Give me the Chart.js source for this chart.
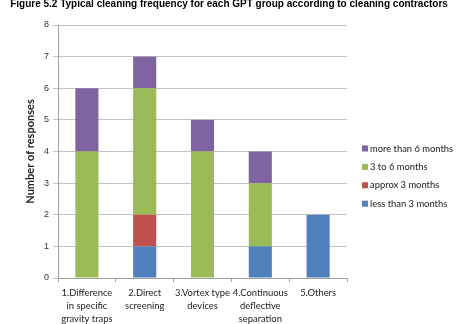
<!DOCTYPE html>
<html>
<head>
<meta charset="utf-8">
<script src="https://cdn.jsdelivr.net/npm/chart.js@4"></script>
<style>
  html, body { margin: 0; padding: 0; background: #fff; overflow: hidden; }
  #wrap { width: 474px; height: 324px; }
</style>
</head>
<body>
<div id="wrap"><canvas id="chart" width="474" height="324"></canvas></div>
<script>
  // categories (multi-line labels as in the figure)
  const categories = [
    ['1.Difference', 'in specific', 'gravity traps'],
    ['2.Direct', 'screening'],
    ['3.Vortex type', 'devices'],
    ['4.Continuous', 'deflective', 'separation'],
    ['5.Others']
  ];

  // series, bottom of the stack first
  const lessThan3 = [0, 1, 0, 1, 2];
  const approx3 = [0, 1, 0, 0, 0];
  const from3to6 = [4, 4, 4, 2, 0];
  const moreThan6 = [2, 1, 1, 1, 0];

  const yTicks = [0, 1, 2, 3, 4, 5, 6, 7, 8];

  const TITLE = 'Figure 5.2 Typical cleaning frequency for each GPT group according to cleaning contractors';
  const LABEL_FONT = 'Lato';
  const GRID = '#c4c4c4';
  const AXIS = '#a0a0a0';

  // legend drawn on the right, top item = last dataset
  const sideLegend = {
    id: 'sideLegend',
    afterDraw(chart) {
      const ctx = chart.ctx;
      const area = chart.chartArea;
      const sets = chart.data.datasets.slice().reverse();
      const x = area.right + 15;
      let y = area.top + 123.5;
      ctx.save();
      ctx.font = '9.4px ' + LABEL_FONT;
      ctx.textBaseline = 'middle';
      ctx.textAlign = 'left';
      sets.forEach(ds => {
        ctx.fillStyle = ds.backgroundColor;
        ctx.fillRect(x, y - 3, 6, 6);
        ctx.fillStyle = '#222';
        ctx.fillText(ds.label, x + 8, y);
        y += 18.4;
      });
      ctx.restore();
    }
  };

  new Chart(document.getElementById('chart').getContext('2d'), {
    type: 'bar',
    data: {
      labels: categories,
      datasets: [
        { label: 'less than 3 months', data: lessThan3, backgroundColor: '#4F81BD' },
        { label: 'approx 3 months', data: approx3, backgroundColor: '#C0504D' },
        { label: '3 to 6 months', data: from3to6, backgroundColor: '#9BBB59' },
        { label: 'more than 6 months', data: moreThan6, backgroundColor: '#8064A2' }
      ]
    },
    options: {
      responsive: false,
      animation: false,
      layout: { padding: { left: 0, right: 16, top: 0, bottom: 0 } },
      datasets: {
        bar: { categoryPercentage: 1, barPercentage: 0.4, borderWidth: 0 }
      },
      plugins: {
        legend: { display: false },
        tooltip: { enabled: false },
        title: {
          display: true,
          text: TITLE,
          color: '#000',
          font: { family: 'Liberation Sans', size: 10, weight: 'bold', lineHeight: 1.2 },
          padding: { top: -2, bottom: 15 }
        }
      },
      scales: {
        x: {
          stacked: true,
          offset: true,
          grid: {
            offset: true,
            drawOnChartArea: false,
            drawTicks: true,
            tickLength: 4,
            color: AXIS
          },
          border: { color: AXIS },
          ticks: {
            color: '#222',
            padding: 5,
            maxRotation: 0,
            autoSkip: false,
            font: { family: LABEL_FONT, size: 9.4, lineHeight: 1.37 }
          },
          afterFit(s) { s.height = 46; }
        },
        y: {
          stacked: true,
          min: 0,
          max: 8,
          afterBuildTicks(s) { s.ticks = yTicks.map(v => ({ value: v })); },
          grid: { color: GRID, tickLength: 5 },
          border: { color: AXIS },
          ticks: {
            color: '#333',
            padding: 4,
            font: { family: 'Liberation Sans', size: 9 }
          },
          title: {
            display: true,
            text: 'Number of responses',
            color: '#222',
            font: { family: LABEL_FONT, size: 11, weight: 'bold', lineHeight: 1.2 },
            padding: { top: 23.5, bottom: 0 }
          },
          afterFit(s) { s.width = 58; }
        },
        yr: {
          type: 'linear',
          position: 'right',
          display: true,
          grid: { display: false },
          border: { display: false },
          ticks: { display: false },
          afterFit(s) { s.width = 111; }
        }
      }
    },
    plugins: [sideLegend]
  });
</script>
</body>
</html>
